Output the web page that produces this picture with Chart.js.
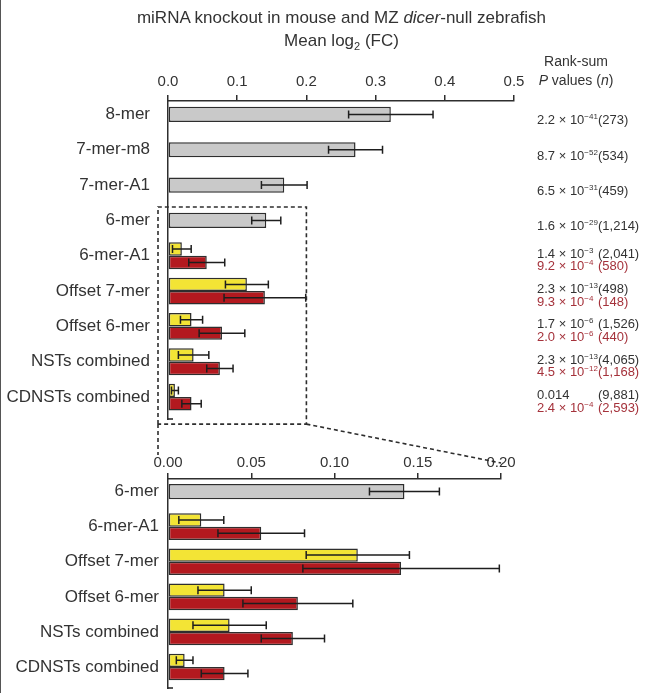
<!DOCTYPE html>
<html>
<head>
<meta charset="utf-8">
<script src="https://cdn.jsdelivr.net/npm/chart.js@4"></script>
<style>
  body { margin: 0; background: #fff; }
  #wrap { position: relative; width: 651px; height: 693px; overflow: hidden; font-family: "Liberation Sans", Arial, sans-serif; color: #333; }
  #wrap canvas { position: absolute; left: 0; top: 0; }
  .title { position: absolute; left: 0; width: 683px; text-align: center; font-size: 17px; line-height: 21px; }
  #pHead { position: absolute; left: 526px; width: 100px; top: 52px; text-align: center; font-size: 14px; line-height: 19px; }
  .prow { position: absolute; left: 537px; font-size: 13px; white-space: nowrap; }
  .pl { height: 12.5px; line-height: 13px; }
  .pl.red { color: #a5323b; }
  .pm { display: inline-block; width: 61px; }
  .pl sup { font-size: 8px; line-height: 0; vertical-align: 5px; }
  #edge { position: absolute; left: 0; top: 0; width: 1px; height: 693px; background: #555; }
</style>
</head>
<body>
<div id="wrap">
  <canvas id="topCanvas" width="651" height="693"></canvas>
  <canvas id="zoomCanvas" width="651" height="730"></canvas>
  <div class="title" style="top:7px">miRNA knockout in mouse and MZ <i>dicer</i>-null zebrafish</div>
  <div class="title" style="top:30px">Mean log<sub style="font-size:11px">2</sub> (FC)</div>
  <div id="pHead">Rank-sum<br><i>P</i> values (<i>n</i>)</div>
  <div id="pvals"></div>
  <div id="edge"></div>
</div>
<script>
// categories
const siteLabels = ['8-mer', '7-mer-m8', '7-mer-A1', '6-mer', '6-mer-A1', 'Offset 7-mer', 'Offset 6-mer', 'NSTs combined', 'CDNSTs combined'];

// mean log2 fold change
const grayValues = [0.322, 0.271, 0.168, 0.142, null, null, null, null, null];
const grayErrors = [0.061, 0.039, 0.033, 0.021, null, null, null, null, null];
const mouseValues = [null, null, null, null, 0.020, 0.114, 0.034, 0.037, 0.010];
const mouseErrors = [null, null, null, null, 0.0135, 0.031, 0.016, 0.022, 0.005];
const fishValues = [null, null, null, null, 0.056, 0.140, 0.078, 0.075, 0.034];
const fishErrors = [null, null, null, null, 0.026, 0.059, 0.033, 0.019, 0.014];

// rank-sum P values and n
const pMant = ['2.2', '8.7', '6.5', '1.6', '1.4', '2.3', '1.7', '2.3', '0.014'];
const pExp = ['−41', '−52', '−31', '−29', '−3', '−13', '−6', '−13', null];
const pN = ['273', '534', '459', '1,214', '2,041', '498', '1,526', '4,065', '9,881'];
const fishMant = [null, null, null, null, '9.2', '9.3', '2.0', '4.5', '2.4'];
const fishExp = [null, null, null, null, '−4', '−4', '−6', '−12', '−4'];
const fishN = [null, null, null, null, '580', '148', '440', '1,168', '2,593'];

// zoomed panel starts at 6-mer
const zoomFrom = 3;

const ink = '#2e2e2e';
const grayFill = '#c9c9c9';
const yellowFill = '#f3e435';
const redFill = '#b3191f';

// rows are placed on a linear y scale so the first bar can sit close to the top axis
function toPoints(values, errors, from) {
    const pts = [];
    values.slice(from).forEach((v, i) => {
        if (v !== null) pts.push({ x: v, y: i, err: errors[i + from] });
    });
    return pts;
}

// draws +/- error whiskers on each bar from point.err
const errorBarPlugin = {
    id: 'errorBars',
    afterDatasetsDraw(chart) {
        const ctx = chart.ctx;
        const xs = chart.scales.x;
        ctx.save();
        ctx.strokeStyle = '#1e1e1e';
        ctx.lineWidth = 1.5;
        chart.data.datasets.forEach((ds, di) => {
            const meta = chart.getDatasetMeta(di);
            ds.data.forEach((p, k) => {
                const bar = meta.data[k];
                const x1 = xs.getPixelForValue(p.x - p.err);
                const x2 = xs.getPixelForValue(p.x + p.err);
                const y = bar.y;
                const cap = 4;
                ctx.beginPath();
                ctx.moveTo(x1, y); ctx.lineTo(x2, y);
                ctx.moveTo(x1, y - cap); ctx.lineTo(x1, y + cap);
                ctx.moveTo(x2, y - cap); ctx.lineTo(x2, y + cap);
                ctx.stroke();
            });
        });
        // little foot at the bottom of the y axis
        const a = chart.chartArea;
        ctx.beginPath();
        ctx.moveTo(a.left, a.bottom); ctx.lineTo(a.left + 5, a.bottom);
        ctx.stroke();
        ctx.restore();
    }
};

function makeDatasets(from) {
    return [
        { data: toPoints(grayValues, grayErrors, from), backgroundColor: grayFill,
          grouped: false, categoryPercentage: 0.43, barPercentage: 1 },
        { data: toPoints(mouseValues, mouseErrors, from), backgroundColor: yellowFill,
          categoryPercentage: 0.76, barPercentage: 1 },
        { data: toPoints(fishValues, fishErrors, from), backgroundColor: redFill,
          categoryPercentage: 0.76, barPercentage: 1 }
    ].map(ds => Object.assign(ds, { borderColor: ink, borderWidth: 1.5, borderSkipped: false }));
}

const axisBox = 40; // fixed height of the top x axis box

function makeOptions(canvasH, labels, xMax, step, digits, area, yMin, yMax, tickPad, labelPad) {
    return {
        indexAxis: 'y',
        responsive: false,
        animation: false,
        layout: { padding: { left: 0, top: area.top - axisBox, right: 651 - area.right, bottom: canvasH - area.bottom } },
        plugins: { legend: { display: false }, tooltip: { enabled: false } },
        scales: {
            x: {
                position: 'top',
                min: 0, max: xMax,
                afterFit: s => { s.height = axisBox; },
                border: { display: true, color: ink, width: 1.5 },
                grid: { drawOnChartArea: false, drawTicks: true, tickLength: 6, color: ink, lineWidth: 1.5 },
                ticks: { stepSize: step, padding: tickPad, color: '#333',
                         font: { family: 'Liberation Sans', size: 15 },
                         callback: v => Number(v).toFixed(digits) }
            },
            y: {
                type: 'linear',
                reverse: true,
                offset: false,
                min: yMin, max: yMax,
                afterBuildTicks: s => { s.ticks = labels.map((l, i) => ({ value: i })); },
                afterFit: s => { s.width = area.left; },
                border: { display: true, color: ink, width: 1.5 },
                grid: { display: false, drawTicks: false },
                ticks: { autoSkip: false, padding: labelPad, color: '#333',
                         font: { family: 'Liberation Sans', size: 17 },
                         callback: v => labels[v] }
            }
        }
    };
}

const topChart = new Chart(document.getElementById('topCanvas'), {
    type: 'bar',
    data: { datasets: makeDatasets(0) },
    options: makeOptions(693, siteLabels, 0.5, 0.1, 1, { left: 168, right: 514, top: 101, bottom: 419 }, -0.38, 8.62, 4, 18),
    plugins: [errorBarPlugin, {
        id: 'zoomBox',
        afterDraw(chart) {
            const xs = chart.scales.x, ys = chart.scales.y, ctx = chart.ctx;
            const left = xs.getPixelForValue(0) - 10;
            const right = xs.getPixelForValue(0.2);
            const top = ys.getPixelForValue(zoomFrom) - 13.5;
            const bottom = ys.getPixelForValue(siteLabels.length - 1) + 27;
            ctx.save();
            ctx.strokeStyle = ink;
            ctx.lineWidth = 1.6;
            ctx.setLineDash([4, 3]);
            ctx.beginPath();
            ctx.moveTo(left, bottom); ctx.lineTo(left, top); ctx.lineTo(right, top);
            ctx.lineTo(right, bottom); ctx.lineTo(left, bottom);
            ctx.stroke();
            ctx.restore();
        }
    }]
});

const zoomLabels = siteLabels.slice(zoomFrom);
const zoomChart = new Chart(document.getElementById('zoomCanvas'), {
    type: 'bar',
    data: { datasets: makeDatasets(zoomFrom) },
    options: makeOptions(730, zoomLabels, 0.2, 0.05, 2, { left: 168, right: 501, top: 479, bottom: 688 }, -0.36, 5.6, 1, 9),
    plugins: [errorBarPlugin, {
        id: 'zoomLinks',
        afterDraw(chart) {
            const tx = topChart.scales.x, ty = topChart.scales.y;
            const left = tx.getPixelForValue(0) - 10;
            const right = tx.getPixelForValue(0.2);
            const bottom = ty.getPixelForValue(siteLabels.length - 1) + 27;
            const ctx = chart.ctx;
            ctx.save();
            ctx.strokeStyle = ink;
            ctx.lineWidth = 1.6;
            ctx.setLineDash([4, 3]);
            ctx.beginPath();
            ctx.moveTo(left, bottom); ctx.lineTo(left, chart.chartArea.top - 24);
            ctx.moveTo(right, bottom); ctx.lineTo(chart.scales.x.getPixelForValue(0.2), chart.chartArea.top - 16);
            ctx.stroke();
            ctx.restore();
        }
    }]
});

// P value column, placed on the top chart's rows
const pBox = document.getElementById('pvals');
function pLine(mant, exp, n, cls) {
    const sup = exp ? ' × 10<sup>' + exp + '</sup>' : '';
    return '<div class="pl ' + cls + '"><span class="pm">' + mant + sup + '</span>(' + n + ')</div>';
}
siteLabels.forEach((lab, i) => {
    const cy = topChart.scales.y.getPixelForValue(i);
    const row = document.createElement('div');
    row.className = 'prow';
    let html = pLine(pMant[i], pExp[i], pN[i], '');
    if (fishMant[i]) {
        html += pLine(fishMant[i], fishExp[i], fishN[i], 'red');
        row.style.top = (cy - 9) + 'px';
    } else {
        row.style.top = (cy - 1) + 'px';
    }
    row.innerHTML = html;
    pBox.appendChild(row);
});
</script>
</body>
</html>
